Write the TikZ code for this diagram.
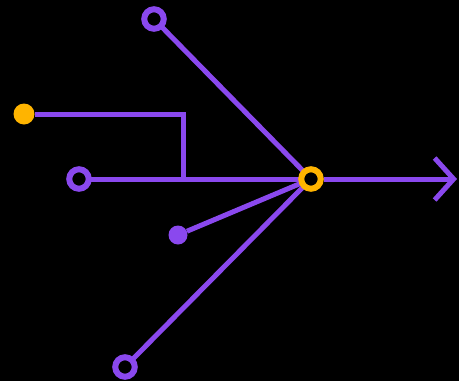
\documentclass[tikz,border=0pt]{standalone}
\usetikzlibrary{arrows.meta}
\definecolor{vio}{HTML}{8A48EE}
\definecolor{amb}{HTML}{FFB400}
\pgfdeclarelayer{bg}
\pgfsetlayers{bg,main}
\begin{document}
\begin{tikzpicture}[x=1pt,y=-1pt,
  wire/.style={draw=vio,line width=5pt},
  ring/.style={circle,draw=#1,line width=6pt,fill=black,inner sep=0pt,minimum size=19.5pt},
]
\useasboundingbox (0,0) rectangle (459,381);
\coordinate (j) at (183,179);
\coordinate (tip) at (457,179);
\node[ring=vio] (top) at (154,19) {};
\node[ring=vio] (left) at (79,179) {};
\node[ring=vio] (bot) at (125,367) {};
\node[circle,fill=amb,inner sep=0pt,minimum size=21pt] (ydot) at (24,114) {};
\node[circle,fill=vio,inner sep=0pt,minimum size=19pt] (pdot) at (178,235) {};
\node[ring=amb] (hub) at (311,179) {};
\begin{pgfonlayer}{bg}
\fill[black] (0,0) rectangle (459,381);
\draw[wire] (top.center) -- (hub.center);
\draw[wire] (bot.center) -- (hub.center);
\draw[wire] (pdot) -- (hub.center);
\draw[wire] (left.center) -- (hub.center);
\draw[wire] (ydot) -| (j);
\draw[wire,-{Straight Barb[length=19pt,width=42pt]}] (hub) -- (tip);
\end{pgfonlayer}
\end{tikzpicture}
\end{document}
